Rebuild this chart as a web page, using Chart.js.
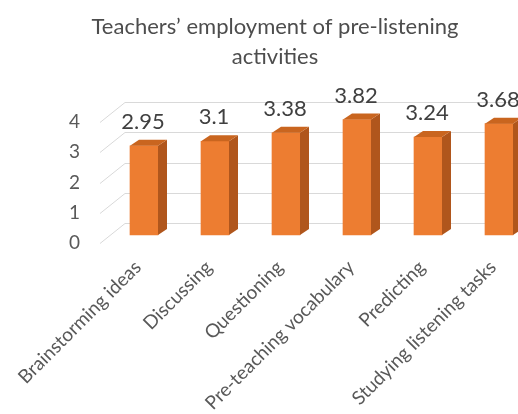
<!DOCTYPE html>
<html>
<head>
<meta charset="utf-8">
<script src="https://cdn.jsdelivr.net/npm/chart.js@4.4.0/dist/chart.umd.min.js"></script>
<style>
  html, body { margin: 0; padding: 0; background: #fff; }
  #wrap { width: 518px; height: 414px; }
</style>
</head>
<body>
<div id="wrap"><canvas id="chart"></canvas></div>
<script>
const activities = ['Brainstorming ideas', 'Discussing', 'Questioning', 'Pre-teaching vocabulary', 'Predicting', 'Studying listening tasks'];
const means = [2.95, 3.1, 3.38, 3.82, 3.24, 3.68];
const yTicks = [0, 1, 2, 3, 4];

const FONT = 'Lato, "Open Sans", sans-serif';

// fake 3d: back wall grid and bar side/top faces
const wallGrid = {
  id: 'wallGrid',
  beforeDatasetsDraw(chart) {
    const ctx = chart.ctx;
    const y = chart.scales.y;
    const left = chart.chartArea.left;
    ctx.save();
    ctx.strokeStyle = '#d9d9d9';
    ctx.lineWidth = 1;
    yTicks.forEach(v => {
      const py = Math.round(y.getPixelForValue(v)) + 0.5;
      ctx.beginPath();
      ctx.moveTo(left - 44, py + 8);
      ctx.lineTo(left - 19, py - 12);
      ctx.lineTo(chart.width - 3, py - 12);
      ctx.stroke();
    });
    ctx.restore();
  }
};

const bars3d = {
  id: 'bars3d',
  afterDatasetsDraw(chart) {
    const ctx = chart.ctx;
    const meta = chart.getDatasetMeta(0);
    const dx = 9, dy = 6;
    ctx.save();
    meta.data.forEach((bar, i) => {
      const l = bar.x - bar.width / 2;
      const r = bar.x + bar.width / 2;
      // side
      ctx.fillStyle = '#b0561c';
      ctx.beginPath();
      ctx.moveTo(r, bar.y);
      ctx.lineTo(r + dx, bar.y - dy);
      ctx.lineTo(r + dx, bar.base - dy);
      ctx.lineTo(r, bar.base);
      ctx.closePath();
      ctx.fill();
      // top
      ctx.fillStyle = '#c9651f';
      ctx.beginPath();
      ctx.moveTo(l, bar.y);
      ctx.lineTo(r, bar.y);
      ctx.lineTo(r + dx, bar.y - dy);
      ctx.lineTo(l + dx, bar.y - dy);
      ctx.closePath();
      ctx.fill();
      // value label
      ctx.fillStyle = '#404040';
      ctx.font = '22px ' + FONT;
      ctx.textAlign = 'center';
      ctx.textBaseline = 'middle';
      ctx.fillText(String(means[i]), bar.x - 1, bar.y - 24);
    });
    ctx.restore();
  }
};

new Chart(document.getElementById('chart'), {
  type: 'bar',
  data: {
    labels: activities,
    datasets: [{
      data: means,
      backgroundColor: '#ed7d31',
      borderWidth: 0,
      barThickness: 28,
      clip: false
    }]
  },
  options: {
    responsive: true,
    maintainAspectRatio: false,
    animation: false,
    layout: { padding: { left: 51, right: 19, top: 12, bottom: 0 } },
    plugins: {
      legend: { display: false },
      tooltip: { enabled: false },
      title: {
        display: true,
        text: ['Teachers\u2019 employment of pre-listening', 'activities'],
        color: '#4d4d4d',
        font: { family: FONT, size: 22, weight: 'normal', lineHeight: 1.364 },
        padding: { top: 0, bottom: 42 }
      }
    },
    scales: {
      x: {
        offset: false,
        grid: { display: false, drawTicks: false },
        border: { display: false },
        afterFit(scale) {
          scale.height = 179;
          scale.paddingLeft = 0;
          scale.paddingRight = 0;
        },
        ticks: {
          autoSkip: false,
          minRotation: 45,
          maxRotation: 45,
          padding: 21,
          labelOffset: -6,
          color: '#595959',
          font: { family: FONT, size: 19 }
        }
      },
      y: {
        min: 0,
        max: 4,
        grid: { display: false, drawTicks: false },
        border: { display: false },
        afterFit(scale) {
          scale.width = 93;
        },
        ticks: {
          stepSize: 1,
          padding: 64,
          labelOffset: 8,
          color: '#595959',
          font: { family: FONT, size: 19 }
        }
      }
    }
  },
  plugins: [wallGrid, bars3d]
});
</script>
</body>
</html>
